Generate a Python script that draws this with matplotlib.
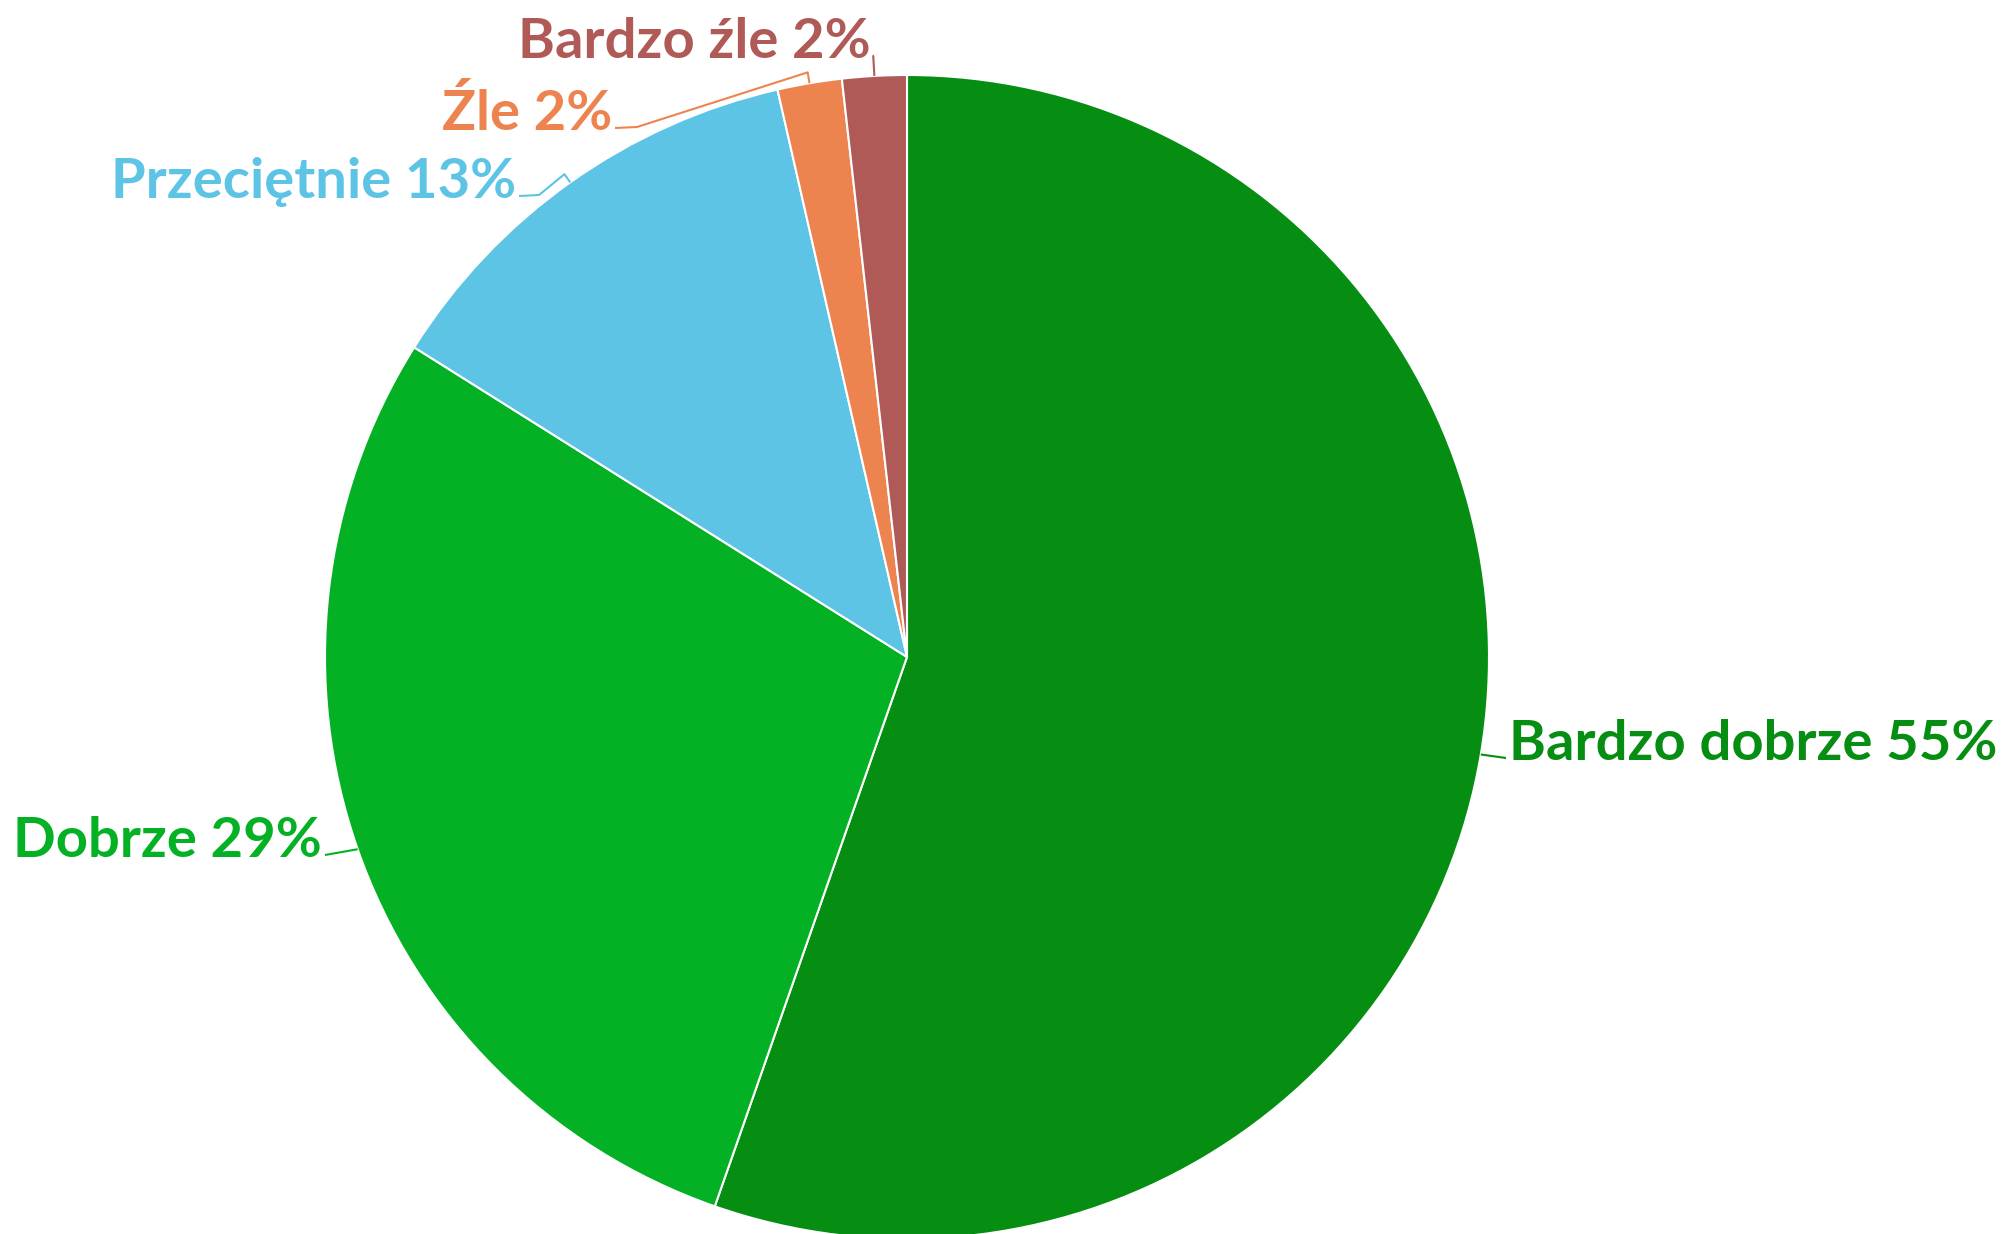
import numpy as np
import matplotlib.pyplot as plt

# dane: liczba odpowiedzi (procenty liczone z nich)
labels = ["Bardzo dobrze", "Dobrze", "Przeciętnie", "Źle", "Bardzo źle"]
counts = [31, 16, 7, 1, 1]
colors = ["#058e12", "#04b124", "#5dc4e5", "#ed8450", "#b05a58"]

W, H = 2009, 1234
fig = plt.figure(figsize=(W / 100, H / 100), dpi=100)
ax = fig.add_axes([0, 0, 1, 1])

cx, cy, r = 907, H - 657, 582
wedges, _ = ax.pie(counts, colors=colors, startangle=90, counterclock=False,
                   center=(cx, cy), radius=r,
                   wedgeprops=dict(edgecolor="white", linewidth=1.5))
ax.set_xlim(0, W)
ax.set_ylim(0, H)
ax.set_aspect("equal")
ax.axis("off")

# polozenie etykiet (x, baseline w pikselach od gory, wyrownanie)
label_pos = [(1509, 760, "left"), (322, 857, "right"), (516, 198, "right"),
             (612, 130, "right"), (871, 58, "right")]
elbow = [0, 0, 10, 11, 20]
tail = [0, 0, 20, 22, 0]

total = sum(counts)
for i, w in enumerate(wedges):
    pct = int(np.floor(100 * counts[i] / total + 0.5))
    ang = np.radians((w.theta1 + w.theta2) / 2)
    dx, dy = np.cos(ang), np.sin(ang)
    tx, ty, ha = label_pos[i]
    ty = H - ty
    sgn = 1 if ha == "right" else -1
    pts = [(cx + r * dx, cy + r * dy)]
    if elbow[i]:
        pts.append((cx + (r + elbow[i]) * dx, cy + (r + elbow[i]) * dy))
    if tail[i]:
        pts.append((tx + sgn * (3 + tail[i]), ty + 3))
    pts.append((tx + sgn * 3, ty + 2))
    xs, ys = zip(*pts)
    ax.plot(xs, ys, color=colors[i], lw=1.5, solid_capstyle="butt")
    ax.text(tx, ty, f"{labels[i]} {pct}%", ha=ha, va="baseline",
            color=colors[i], fontsize=40.5, fontweight="bold",
            family=["Lato", "DejaVu Sans"])

fig.savefig("out.png", dpi=100)
